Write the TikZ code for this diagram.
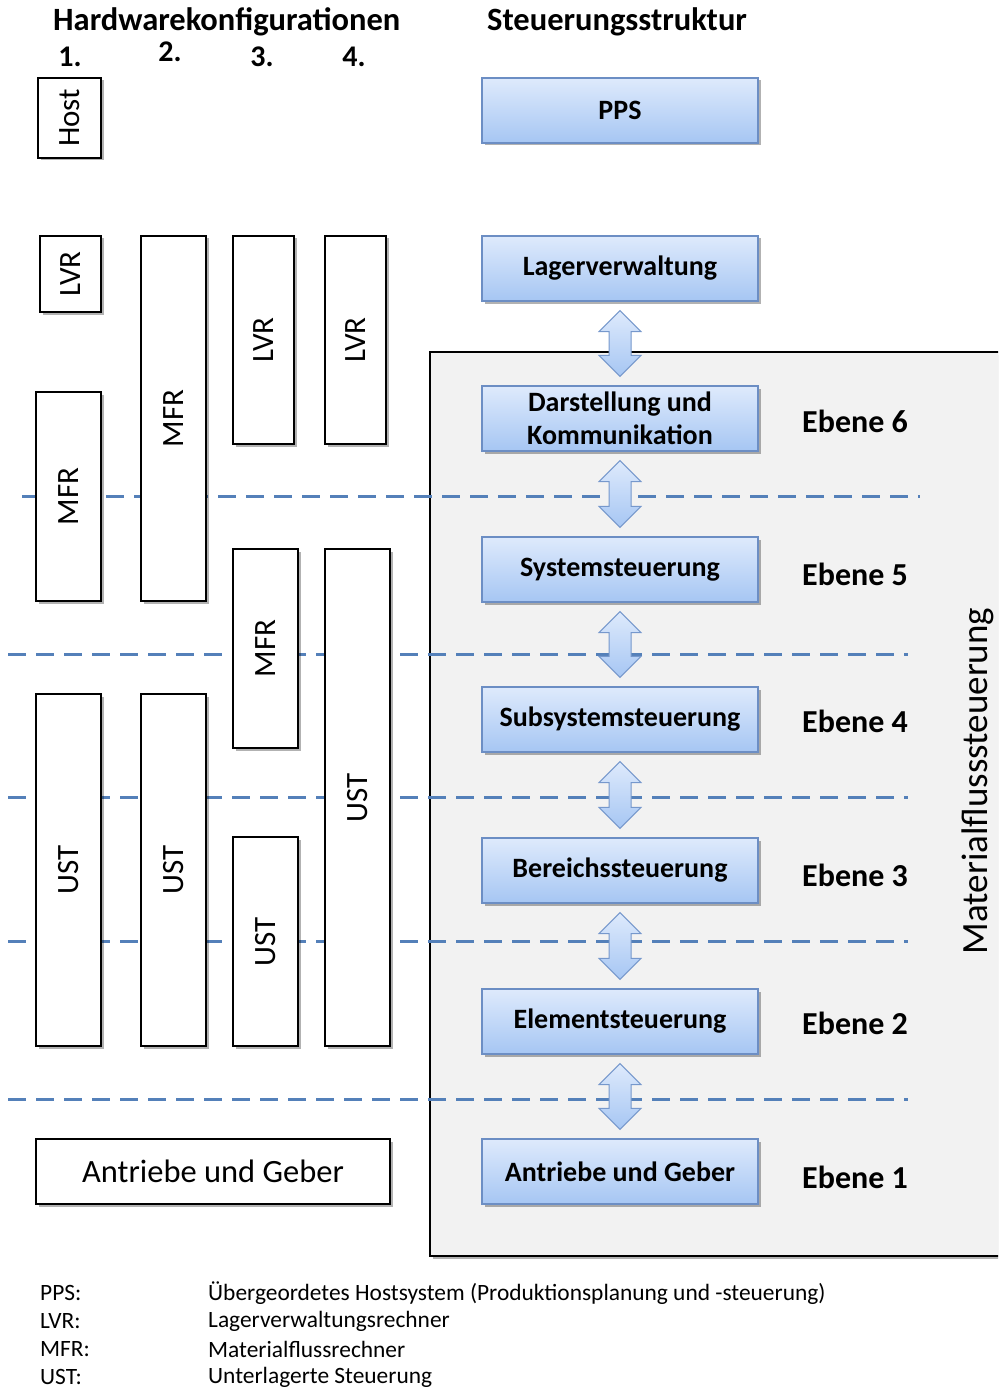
\documentclass[tikz,border=0pt]{standalone}
\usepackage{fontspec}
\setmainfont{Carlito}
\usetikzlibrary{shadows,calc}

\definecolor{boxtop}{RGB}{222,234,252}
\definecolor{boxbot}{RGB}{166,198,243}
\definecolor{boxline}{RGB}{108,142,196}
\definecolor{arrowline}{RGB}{118,152,204}
\definecolor{sepline}{RGB}{84,128,185}
\definecolor{panelgray}{RGB}{242,242,242}

\begin{document}
\begin{tikzpicture}[x=1pt,y=-1pt,
  softshadow/.style={drop shadow={shadow xshift=2.5pt,shadow yshift=-2.5pt,opacity=0.3,fill=black}},
  hwbox/.style={rectangle,draw=black,line width=1.6pt,fill=white,inner sep=0pt,softshadow},
  vlabel/.style={rotate=90,font=\fontsize{31}{31}\selectfont},
  ctlbox/.style={rectangle,draw=boxline,line width=1.2pt,top color=boxtop,bottom color=boxbot,
    minimum width=276pt,minimum height=65pt,inner sep=0pt,align=center,
    font=\fontsize{28}{33}\selectfont\bfseries,softshadow},
  blockarrow/.style={draw=arrowline,line width=1pt,top color=boxtop,bottom color=boxbot,line join=miter},
  sepdash/.style={draw=sepline,line width=3pt,dash pattern=on 18pt off 10pt},
  heading/.style={anchor=west,inner sep=0pt,font=\fontsize{32.5}{32.5}\selectfont\bfseries},
  colnum/.style={inner sep=0pt,font=\fontsize{30}{30}\selectfont\bfseries},
  level/.style={anchor=west,inner sep=0pt,font=\fontsize{32}{32}\selectfont\bfseries},
  legend/.style={anchor=west,font=\fontsize{23.4}{23.4}\selectfont,inner sep=0pt}
]
\useasboundingbox (0,0) rectangle (998,1388);
\clip (0,0) rectangle (998,1388);

% panel of the material flow control
\path[fill=panelgray,draw=black,line width=1.5pt,softshadow] (430,352) rectangle (1012,1256);

% level separators
\draw[sepdash] (22,496) -- (920,496);
\draw[sepdash] (8,654) -- (908,654);
\draw[sepdash] (8,797) -- (908,797);
\draw[sepdash] (8,941) -- (908,941);
\draw[sepdash] (8,1099) -- (908,1099);

% headings
\node[heading] (hwtitle) at (53,22) {Hardwarekonfigurationen};
\node[heading] (cttitle) at (487,22) {Steuerungsstruktur};
\node[colnum] (n1) at (70,57) {1.};
\node[colnum] (n2) at (170,52) {2.};
\node[colnum] (n3) at (262,57) {3.};
\node[colnum] (n4) at (354,57) {4.};

% hardware configurations
\node[hwbox,minimum width=63pt,minimum height=80pt,label={[vlabel]center:Host}] (host) at (69.5,118) {};
\node[hwbox,minimum width=61pt,minimum height=76pt,label={[vlabel]center:LVR}] (lvr1) at (70.5,274) {};
\node[hwbox,minimum width=65pt,minimum height=209pt,label={[vlabel]center:MFR}] (mfr1) at (68.5,496.5) {};
\node[hwbox,minimum width=65pt,minimum height=352pt,label={[vlabel]center:UST}] (ust1) at (68.5,870) {};

\node[hwbox,minimum width=65pt,minimum height=365pt,label={[vlabel]center:MFR}] (mfr2) at (173.5,418.5) {};
\node[hwbox,minimum width=65pt,minimum height=352pt,label={[vlabel]center:UST}] (ust2) at (173.5,870) {};

\node[hwbox,minimum width=61pt,minimum height=208pt,label={[vlabel]center:LVR}] (lvr3) at (263.5,340) {};
\node[hwbox,minimum width=65pt,minimum height=199pt,label={[vlabel]center:MFR}] (mfr3) at (265.5,648.5) {};
\node[hwbox,minimum width=65pt,minimum height=209pt,label={[vlabel]center:UST}] (ust3) at (265.5,941.5) {};

\node[hwbox,minimum width=61pt,minimum height=208pt,label={[vlabel]center:LVR}] (lvr4) at (355.5,340) {};
\node[hwbox,minimum width=65pt,minimum height=497pt,label={[vlabel]center:UST}] (ust4) at (357.5,797.5) {};

\node[hwbox,minimum width=354pt,minimum height=65pt,font=\fontsize{32.5}{32.5}\selectfont] (drives) at (213,1171.5) {Antriebe und Geber};

% control structure
\node[ctlbox] (pps) at (620,110.5) {PPS};
\node[ctlbox] (lv) at (620,268.5) {Lagerverwaltung};
\node[ctlbox] (ds) at (620,418.5) {Darstellung und\\Kommunikation};
\node[ctlbox] (ss) at (620,569.5) {Systemsteuerung};
\node[ctlbox] (sub) at (620,719.5) {Subsystemsteuerung};
\node[ctlbox] (ber) at (620,870.5) {Bereichssteuerung};
\node[ctlbox] (el) at (620,1021.5) {Elementsteuerung};
\node[ctlbox] (ag) at (620,1171.5) {Antriebe und Geber};

% double block arrows between the control levels
\foreach \a/\b in {lv/ds,ds/ss,ss/sub,sub/ber,ber/el,el/ag}{
  \path[blockarrow] let \p1=($(\a.south)+(0,9)$), \p2=($(\b.north)+(0,-9)$) in
    (\x1,\y1) -- (\x1+21pt,\y1-21pt) -- (\x1+11pt,\y1-21pt) -- (\x1+11pt,\y2+21pt)
    -- (\x1+21pt,\y2+21pt) -- (\x1,\y2) -- (\x1-21pt,\y2+21pt) -- (\x1-11pt,\y2+21pt)
    -- (\x1-11pt,\y1-21pt) -- (\x1-21pt,\y1-21pt) -- cycle;
}

% level labels
\node[level] (e6) at (802,421) {Ebene 6};
\node[level] (e5) at (802,574) {Ebene 5};
\node[level] (e4) at (802,721) {Ebene 4};
\node[level] (e3) at (802,875) {Ebene 3};
\node[level] (e2) at (802,1023) {Ebene 2};
\node[level] (e1) at (802,1177) {Ebene 1};
\node[rotate=90,font=\fontsize{37}{37}\selectfont] (mfs) at (978,781) {Materialflusssteuerung};

% abbreviations
\node[legend] (k1) at (40,1293) {PPS:};
\node[legend] (k2) at (40,1321) {LVR:};
\node[legend] (k3) at (40,1349) {MFR:};
\node[legend] (k4) at (40,1377) {UST:};
\node[legend] (d1) at (208,1293) {Übergeordetes Hostsystem (Produktionsplanung und -steuerung)};
\node[legend] (d2) at (208,1321) {Lagerverwaltungsrechner};
\node[legend] (d3) at (208,1349) {Materialflussrechner};
\node[legend] (d4) at (208,1377) {Unterlagerte Steuerung};
\end{tikzpicture}
\end{document}
